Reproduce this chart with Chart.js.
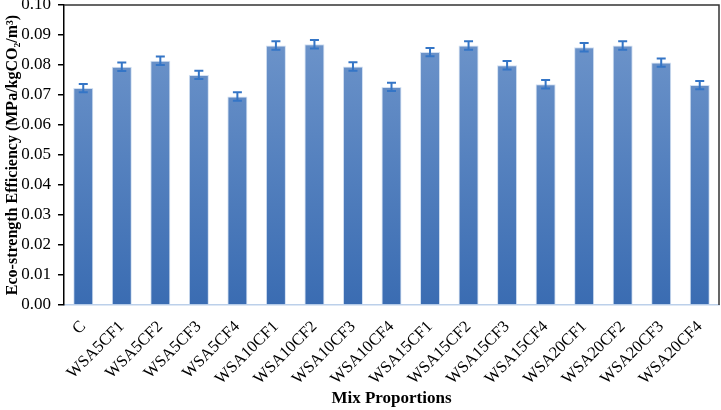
<!DOCTYPE html>
<html>
<head>
<meta charset="utf-8">
<script src="https://cdn.jsdelivr.net/npm/chart.js@4"></script>
<style>
html,body{margin:0;padding:0;background:#fff;}
#wrap{width:721px;height:410px;position:relative;}
</style>
</head>
<body>
<div id="wrap"><canvas id="c" width="721" height="410"></canvas></div>
<script>
const categories = ["C","WSA5CF1","WSA5CF2","WSA5CF3","WSA5CF4","WSA10CF1","WSA10CF2","WSA10CF3","WSA10CF4","WSA15CF1","WSA15CF2","WSA15CF3","WSA15CF4","WSA20CF1","WSA20CF2","WSA20CF3","WSA20CF4"];
const efficiency = [0.0723,0.0794,0.0814,0.0767,0.0695,0.0865,0.0869,0.0795,0.0727,0.0843,0.0865,0.0799,0.0736,0.0859,0.0865,0.0808,0.0733];
const errors = [0.0014,0.0014,0.0014,0.0014,0.0014,0.0014,0.0014,0.0014,0.0014,0.0014,0.0014,0.0014,0.0014,0.0014,0.0014,0.0014,0.0014];
const yTicks = [0,0.01,0.02,0.03,0.04,0.05,0.06,0.07,0.08,0.09,0.10];

const errorBarPlugin = {
  id: 'errorBars',
  afterDatasetsDraw(chart) {
    const ctx = chart.ctx;
    const meta = chart.getDatasetMeta(0);
    const ys = chart.scales.y;
    ctx.save();
    ctx.strokeStyle = '#3475c6';
    ctx.lineWidth = 2;
    meta.data.forEach((bar, i) => {
      const v = efficiency[i], e = errors[i];
      const x = bar.x;
      const yTop = ys.getPixelForValue(v + e);
      const yBot = ys.getPixelForValue(v - e);
      ctx.beginPath();
      ctx.moveTo(x, yTop); ctx.lineTo(x, yBot);
      ctx.moveTo(x - 4.5, yTop); ctx.lineTo(x + 4.5, yTop);
      ctx.moveTo(x - 4.5, yBot); ctx.lineTo(x + 4.5, yBot);
      ctx.stroke();
    });
    ctx.restore();
  }
};

const framePlugin = {
  id: 'frame',
  afterDraw(chart) {
    const a = chart.chartArea, ctx = chart.ctx;
    ctx.save();
    ctx.strokeStyle = '#333';
    ctx.lineWidth = 1.5;
    ctx.beginPath();
    ctx.moveTo(a.left, a.top); ctx.lineTo(a.right, a.top); ctx.lineTo(a.right, a.bottom);
    ctx.stroke();
    ctx.restore();
  }
};

function barGradient(context) {
  const chart = context.chart;
  const a = chart.chartArea;
  if (!a) return '#4f7fc0';
  const g = chart.ctx.createLinearGradient(0, chart.scales.y.getPixelForValue(0.09), 0, a.bottom);
  g.addColorStop(0, '#6d94ca');
  g.addColorStop(1, '#3a6cb2');
  return g;
}

new Chart(document.getElementById('c'), {
  type: 'bar',
  data: {
    labels: categories,
    datasets: [{
      data: efficiency,
      backgroundColor: barGradient,
      borderColor: '#d2e0f2',
      borderWidth: 1,
      categoryPercentage: 1,
      barPercentage: 0.52
    }]
  },
  options: {
    responsive: false,
    animation: false,
    devicePixelRatio: 1,
    layout: { padding: { top: 5, right: 2, left: 3, bottom: 0 } },
    plugins: { legend: { display: false }, tooltip: { enabled: false } },
    scales: {
      x: {
        grid: { display: false },
        border: { color: '#bcd0ea', width: 1.5 },
        ticks: {
          color: '#000',
          font: { family: 'Liberation Serif', size: 16.5 },
          minRotation: 45, maxRotation: 45, padding: 4
        },
        title: {
          display: true, text: 'Mix Proportions', color: '#000',
          font: { family: 'Liberation Serif', size: 17, weight: 'bold' },
          padding: { top: 0, bottom: 1 }
        },
        afterFit(s) { s.height = 105; s.paddingLeft = 0; s.paddingRight = 0; }
      },
      y: {
        min: 0, max: 0.1,
        afterBuildTicks(s) { s.ticks = yTicks.map(v => ({ value: v })); },
        grid: { display: true, drawOnChartArea: false, drawTicks: true, tickLength: 6, color: '#000', lineWidth: 1.5 },
        border: { color: '#000', width: 1.5 },
        ticks: {
          color: '#000',
          font: { family: 'Liberation Serif', size: 17 },
          padding: 7,
          callback: v => Number(v).toFixed(2)
        },
        title: {
          display: true, text: 'Eco-strength Efficiency (MPa/kgCO\u2082/m\u00B3)', color: '#000',
          font: { family: 'Liberation Serif', size: 16, weight: 'bold' },
          padding: { top: 0, bottom: 1 }
        },
        afterFit(s) { s.width = 61; s.paddingTop = 0; s.paddingBottom = 0; }
      }
    }
  },
  plugins: [errorBarPlugin, framePlugin]
});
</script>
</body>
</html>
